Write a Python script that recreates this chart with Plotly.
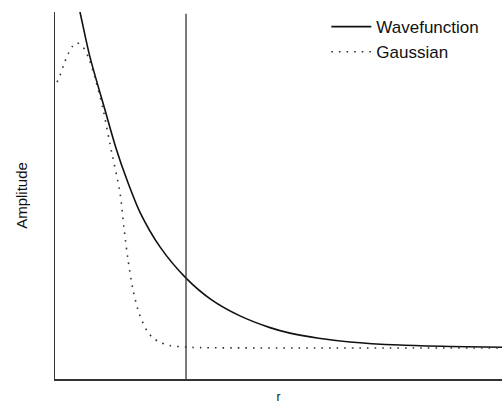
import plotly.graph_objects as go

# Wavefunction (solid) samples
wave_r = [0.447, 0.559, 0.783, 1.119, 1.365, 1.611, 1.902, 2.349, 2.931, 3.512,
          4.139, 4.810, 5.257, 5.900, 6.600, 7.718, 8.837, 10.0]
wave_amp = [1.060, 1.000, 0.877, 0.733, 0.629, 0.542, 0.454, 0.360, 0.275, 0.215,
            0.172, 0.140, 0.125, 0.111, 0.101, 0.0925, 0.0885, 0.0865]

# Gaussian (dotted) samples
gauss_r = [0.045, 0.112, 0.201, 0.291, 0.380, 0.492, 0.626, 0.761, 0.895, 1.074,
           1.230, 1.454, 1.544, 1.633, 1.745, 1.879, 2.058, 2.192, 2.349, 2.573,
           2.931, 3.244, 10.0]
gauss_amp = [0.809, 0.827, 0.858, 0.885, 0.905, 0.916, 0.905, 0.872, 0.820, 0.736,
             0.640, 0.507, 0.410, 0.325, 0.243, 0.180, 0.131, 0.112, 0.100, 0.091,
             0.087, 0.0855, 0.0845]

cutoff_r = 2.931
series_names = ["Wavefunction", "Gaussian"]

fig = go.Figure()
fig.add_trace(go.Scatter(x=wave_r, y=wave_amp, mode="lines", name=series_names[0],
                         line=dict(color="#111111", width=1.6, shape="spline",
                                   smoothing=0.8)))
fig.add_trace(go.Scatter(x=gauss_r, y=gauss_amp, mode="lines", name=series_names[1],
                         line=dict(color="#333333", width=1.6, shape="spline",
                                   smoothing=0.8, dash="1.6px,6px")))

fig.add_shape(type="line", xref="x", yref="paper", x0=cutoff_r, x1=cutoff_r,
              y0=0, y1=0.995, line=dict(color="#333333", width=1.3))

fig.update_layout(
    width=502, height=404,
    margin=dict(l=55, r=0, t=12, b=25),
    paper_bgcolor="white", plot_bgcolor="white",
    font=dict(family="Liberation Sans, Arial, sans-serif", color="#111111"),
    showlegend=True,
    legend=dict(x=0.607, xanchor="left", y=1.008, yanchor="top",
                font=dict(size=17), bgcolor="rgba(0,0,0,0)",
                itemwidth=40, tracegroupgap=0),
    xaxis=dict(range=[0, 10], showticklabels=False, ticks="", showgrid=False,
               zeroline=False, showline=True, linecolor="#333333", linewidth=1.5,
               title=dict(text="r", font=dict(size=12, color="#111111"), standoff=17)),
    yaxis=dict(range=[0, 1], showticklabels=False, ticks="", showgrid=False,
               zeroline=False, showline=True, linecolor="#333333", linewidth=1.5,
               title=dict(text="Amplitude", font=dict(size=15, color="#111111"),
                          standoff=22)),
)

fig.write_html("out.html", config={"staticPlot": True, "displayModeBar": False},
               post_script="document.body.style.margin='0px';")
